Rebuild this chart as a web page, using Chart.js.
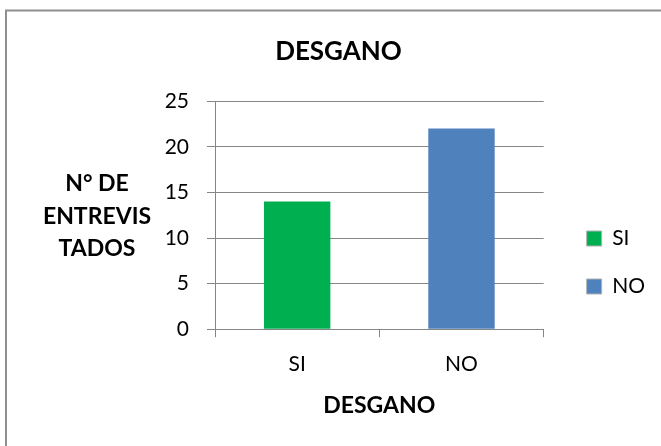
<!DOCTYPE html>
<html>
<head>
<meta charset="utf-8">
<script src="https://cdn.jsdelivr.net/npm/chart.js@4.4.1/dist/chart.umd.min.js"></script>
<style>
  html, body { margin: 0; padding: 0; background: #ffffff; }
  #wrap { position: relative; width: 661px; height: 446px; }
</style>
</head>
<body>
<div id="wrap"><canvas id="chart" width="661" height="446"></canvas></div>
<script>
'use strict'

// data
const categories = ['SI', 'NO']
const values = [14, 22]
const barColors = ['#00B050', '#4F81BD']
const yTicks = [0, 5, 10, 15, 20, 25]
const chartTitle = 'DESGANO'
const xTitle = 'DESGANO'
const yTitleLines = ['N° DE', 'ENTREVIS', 'TADOS']

const FONT = 'Lato'
const GRID = '#868686'

// frame round the whole picture (only top and left are in view)
const framePlugin = {
    id: 'frame',
    beforeDraw(chart){
        const ctx = chart.ctx
        ctx.save()
        ctx.strokeStyle = '#8f8f8f'
        ctx.lineWidth = 2
        ctx.strokeRect(6, 10.5, chart.width + 20, chart.height + 20)
        ctx.restore()
    }
}

// horizontal y axis title, left of the tick labels
const yTitlePlugin = {
    id: 'yTitle',
    afterDraw(chart){
        const ctx = chart.ctx
        const area = chart.chartArea
        const cx = area.left - 118
        const cy = (area.top + area.bottom) / 2 + 1
        const step = 32.5
        ctx.save()
        ctx.font = 'bold 23px ' + FONT
        ctx.fillStyle = '#000000'
        ctx.textAlign = 'center'
        ctx.textBaseline = 'middle'
        yTitleLines.forEach((line, i) => {
            ctx.fillText(line, cx, cy + (i - (yTitleLines.length - 1) / 2) * step)
        })
        ctx.restore()
    }
}

// nudge title and legend after the layout is done
const nudgePlugin = {
    id: 'nudge',
    afterLayout(chart){
        const lg = chart.legend
        if(lg){
            lg.left += 16
            lg.right += 16
            lg.top += 53
            lg.bottom += 53
        }
        const t = chart.titleBlock
        if(t){
            t.left += 19
            t.right += 19
        }
    }
}

const ctx = document.getElementById('chart')
const chart = new Chart(ctx, {
    type: 'bar',
    data: {
        labels: categories,
        datasets: [{
            label: chartTitle,
            data: values,
            backgroundColor: barColors,
            borderWidth: 0,
            categoryPercentage: 1,
            barPercentage: 0.404
        }]
    },
    options: {
        responsive: false,
        animation: false,
        devicePixelRatio: 1,
        layout: { padding: { left: 0, right: 22, top: 0, bottom: 27 } },
        plugins: {
            title: {
                display: true,
                text: chartTitle,
                color: '#000000',
                font: { family: FONT, size: 26, weight: 'bold' },
                padding: { top: 36, bottom: 34 }
            },
            legend: {
                display: true,
                position: 'right',
                labels: {
                    color: '#000000',
                    font: { family: FONT, size: 21 },
                    boxWidth: 15,
                    boxHeight: 15,
                    padding: 27,
                    generateLabels(){
                        return categories.map((c, i) => ({
                            text: c,
                            fillStyle: barColors[i],
                            strokeStyle: '#b0b0b0',
                            lineWidth: 1,
                            hidden: false,
                            index: i
                        }))
                    }
                }
            },
            tooltip: { enabled: false }
        },
        scales: {
            x: {
                offset: true,
                grid: {
                    offset: true,
                    drawOnChartArea: false,
                    drawTicks: true,
                    tickLength: 8,
                    color: GRID
                },
                border: { display: true, color: GRID, width: 1 },
                ticks: {
                    color: '#000000',
                    font: { family: FONT, size: 21 },
                    padding: 14
                },
                title: {
                    display: true,
                    text: xTitle,
                    color: '#000000',
                    font: { family: FONT, size: 23, weight: 'bold' },
                    padding: { top: 1, bottom: 0 }
                }
            },
            y: {
                min: yTicks[0],
                max: yTicks[yTicks.length - 1],
                afterFit(scale){
                    scale.width = 215
                },
                afterBuildTicks(scale){
                    scale.ticks = yTicks.map(v => ({ value: v }))
                },
                grid: {
                    color: GRID,
                    lineWidth: 1,
                    drawTicks: true,
                    tickLength: 8
                },
                border: { display: true, color: GRID, width: 1 },
                ticks: {
                    color: '#000000',
                    font: { family: FONT, size: 21 },
                    padding: 18
                }
            }
        }
    },
    plugins: [framePlugin, yTitlePlugin, nudgePlugin]
})
</script>
</body>
</html>
